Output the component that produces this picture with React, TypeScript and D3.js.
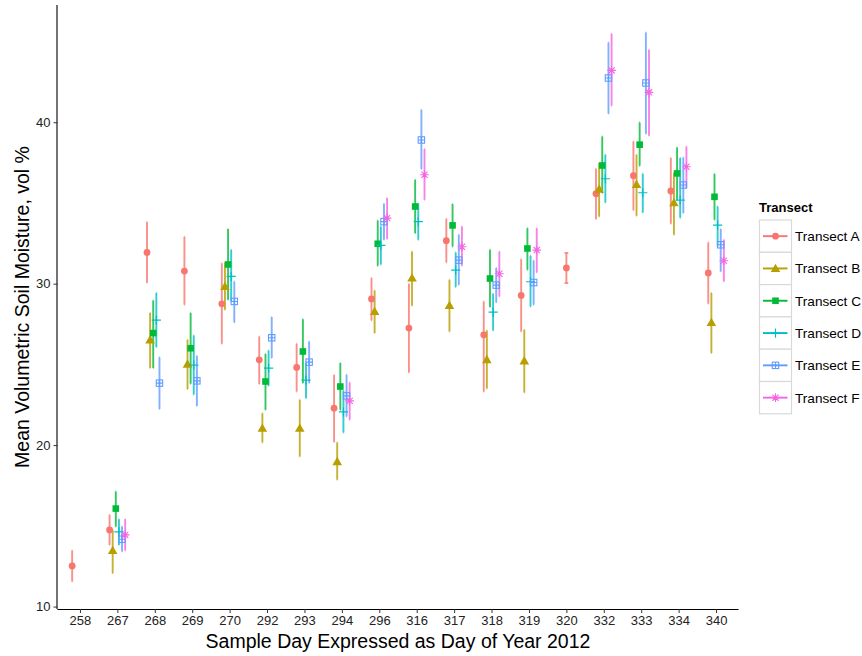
import React, { useEffect, useRef } from 'react';
import * as d3 from 'd3';

// sample days (day of year 2012)
const days = ['258', '267', '268', '269', '270', '292', '293', '294', '296', '316', '317', '318', '319', '320', '332', '333', '334', '340'];
const transects = ['Transect A', 'Transect B', 'Transect C', 'Transect D', 'Transect E', 'Transect F'];
const colors = ['#F8766D', '#B79F00', '#00BA38', '#00BFC4', '#619CFF', '#F564E3'];
const shapes = ['circle', 'triangle', 'square', 'plus', 'squarePlus', 'asterisk'];
// day 320 only had transect A sampled, so it is not dodged
const singleDays = ['320'];

const meanA = [12.52, 14.75, 31.93, 30.78, 28.75, 25.28, 24.81, 22.29, 29.05, 27.25, 32.66, 26.83, 29.27, 30.97, 35.57, 36.69, 35.74, 30.66];
const hiA = [13.47, 15.68, 33.82, 32.91, 31.27, 26.73, 26.28, 24.34, 30.35, 29.99, 34.02, 28.9, 31.52, 31.9, 37.12, 38.81, 37.78, 32.55];
const loA = [11.55, 13.82, 30.06, 28.69, 26.28, 23.78, 23.32, 20.19, 27.72, 24.5, 31.31, 23.3, 27.04, 30.04, 34.0, 34.54, 33.71, 28.75];

const meanB = [null, 13.47, 26.52, 25.02, 29.83, 21.05, 21.05, 18.98, 28.28, 30.35, 28.65, 25.3, 25.22, null, 35.86, 36.15, 35.01, 27.6];
const hiB = [null, 14.75, 28.18, 26.52, 31.3, 21.98, 22.81, 20.16, 29.58, 32.0, 30.24, 27.1, 27.14, null, 37.47, 37.99, 36.85, 29.42];
const loB = [null, 12.07, 24.77, 23.47, 28.38, 20.16, 19.29, 17.85, 26.94, 28.63, 27.04, 23.5, 23.26, null, 34.16, 34.2, 33.03, 25.7];

const meanC = [null, 16.07, 26.94, 26.0, 31.19, 23.94, 25.8, 23.63, 32.47, 34.78, 33.61, 30.32, 32.18, null, 37.32, 38.61, 36.83, 35.38];
const hiC = [null, 17.13, 28.96, 28.18, 33.38, 25.64, 27.8, 25.08, 33.92, 36.44, 34.93, 32.1, 33.44, null, 39.12, 39.99, 38.44, 36.79];
const loC = [null, 14.96, 24.77, 23.8, 29.0, 22.19, 23.84, 22.19, 31.11, 33.13, 32.3, 28.55, 30.86, null, 35.61, 37.3, 35.2, 33.96];

const meanD = [null, 14.63, 27.74, 24.96, 30.45, 24.77, 24.03, 22.06, 32.37, 33.84, 30.84, 28.24, 30.12, null, 36.5, 35.63, 35.18, 33.63];
const hiD = [null, 15.41, 29.42, 26.79, 32.1, 25.86, 25.08, 23.38, 33.54, 34.95, 31.93, 29.37, 31.73, null, 37.99, 36.81, 37.78, 34.78];
const loD = [null, 13.82, 26.07, 23.14, 28.9, 23.67, 22.91, 20.78, 31.19, 32.72, 29.79, 27.1, 28.59, null, 35.03, 34.41, 34.08, 32.3];

const meanE = [null, 14.17, 23.84, 23.98, 28.9, 26.65, 25.14, 23.05, 33.84, 38.9, 31.46, 29.91, 30.07, null, 42.74, 42.43, 36.11, 32.41];
const hiE = [null, 14.96, 25.45, 25.53, 30.14, 27.93, 26.42, 24.36, 34.95, 40.77, 33.03, 30.97, 31.44, null, 44.94, 45.56, 37.82, 33.38];
const loE = [null, 13.41, 22.23, 22.43, 27.6, 25.39, 23.84, 21.77, 32.72, 37.1, 29.93, 28.84, 28.69, null, 40.53, 39.29, 34.37, 30.76];

const meanF = [null, 14.44, null, null, null, null, null, 22.74, 34.06, 36.75, 32.29, 30.61, 32.08, null, 43.21, 41.85, 37.24, 31.42];
const hiF = [null, 15.41, null, null, null, null, null, 23.88, 35.3, 38.34, 33.54, 32.0, 33.44, null, 45.48, 44.49, 38.5, 32.72];
const loF = [null, 13.47, null, null, null, null, null, 21.57, 32.76, 35.2, 31.11, 29.2, 30.69, null, 41.02, 39.16, 35.92, 30.14];

const yTicks = [10, 20, 30, 40];

const means = [meanA, meanB, meanC, meanD, meanE, meanF];
const his = [hiA, hiB, hiC, hiD, hiE, hiF];
const los = [loA, loB, loC, loD, loE, loF];

const FONT = '"Liberation Sans", Arial, Helvetica, sans-serif';

// draw a ggplot-like point shape centred at 0,0
function drawShape(g, shape, color) {
  if (shape === 'circle') {
    g.append('circle').attr('r', 3.4).attr('fill', color);
  } else if (shape === 'triangle') {
    g.append('path').attr('d', d3.symbol(d3.symbolTriangle, 40)()).attr('fill', color).attr('transform', 'translate(0,0.8)');
  } else if (shape === 'square') {
    g.append('rect').attr('x', -3.3).attr('y', -3.3).attr('width', 6.6).attr('height', 6.6).attr('fill', color);
  } else if (shape === 'plus') {
    g.append('path').attr('d', 'M-4.6,0H4.6M0,-4.6V4.6').attr('stroke', color).attr('stroke-width', 1.2);
  } else if (shape === 'squarePlus') {
    g.append('rect').attr('x', -3.2).attr('y', -3.2).attr('width', 6.4).attr('height', 6.4)
      .attr('fill', 'none').attr('stroke', color).attr('stroke-width', 1.1);
    g.append('path').attr('d', 'M-3.2,0H3.2M0,-3.2V3.2').attr('stroke', color).attr('stroke-width', 1.1);
  } else if (shape === 'asterisk') {
    g.append('path').attr('d', 'M-4.3,0H4.3M0,-4.3V4.3M-3.1,-3.1L3.1,3.1M-3.1,3.1L3.1,-3.1')
      .attr('stroke', color).attr('stroke-width', 1.1);
  }
}

const App = () => {
  const ref = useRef(null);
  const width = 862;
  const height = 656;
  const panel = { left: 57.5, right: 738.5, top: 5, bottom: 609 };

  useEffect(() => {
    const svg = d3.select(ref.current);
    svg.selectAll('*').remove();

    const x = d3.scalePoint().domain(days).range([panel.left, panel.right]).padding(0.6);
    const step = x.step();

    const allLo = los.flat().filter((v) => v != null);
    const allHi = his.flat().filter((v) => v != null);
    const yMin = d3.min(allLo);
    const yMax = d3.max(allHi);
    const pad = (yMax - yMin) * 0.05;
    const y = d3.scaleLinear().domain([yMin - pad, yMax + pad]).range([panel.bottom, panel.top]);

    const dodgeW = 0.5 * step;

    // points + error bars
    const rows = [];
    transects.forEach((t, ti) => {
      days.forEach((d, di) => {
        if (means[ti][di] == null) return;
        const n = singleDays.includes(d) ? 1 : transects.length;
        const slot = n === 1 ? 0 : ti;
        const off = (slot - (n - 1) / 2) * (dodgeW / n);
        rows.push({ ti, day: d, cx: x(d) + off, n, mean: means[ti][di], hi: his[ti][di], lo: los[ti][di] });
      });
    });

    const bars = svg.append('g').attr('class', 'errorbars');
    rows.forEach((r) => {
      const capHalf = (0.1 * step) / r.n / 2;
      bars.append('path')
        .attr('d', `M${r.cx},${y(r.hi)}V${y(r.lo)}M${r.cx - capHalf},${y(r.hi)}H${r.cx + capHalf}M${r.cx - capHalf},${y(r.lo)}H${r.cx + capHalf}`)
        .attr('stroke', colors[r.ti])
        .attr('stroke-opacity', 0.8)
        .attr('stroke-width', 1.9)
        .attr('fill', 'none');
    });

    const pts = svg.append('g').attr('class', 'points');
    rows.forEach((r) => {
      const g = pts.append('g').attr('transform', `translate(${r.cx},${y(r.mean)})`);
      drawShape(g, shapes[r.ti], colors[r.ti]);
    });

    // axes
    const xAxis = svg.append('g')
      .attr('transform', `translate(0,${panel.bottom})`)
      .call(d3.axisBottom(x).tickSize(4).tickPadding(3).tickSizeOuter(0));
    xAxis.select('.domain').attr('d', `M${panel.left},0.5H${panel.right}`).attr('stroke', '#000').attr('stroke-width', 1.1);
    xAxis.selectAll('.tick line').attr('stroke', '#333');
    xAxis.selectAll('.tick text').attr('fill', '#222').style('font-size', '13px').style('font-family', FONT);

    const yAxis = svg.append('g')
      .attr('transform', `translate(${panel.left},0)`)
      .call(d3.axisLeft(y).tickValues(yTicks).tickSize(4).tickPadding(3).tickSizeOuter(0));
    yAxis.select('.domain').attr('d', `M-0.5,${panel.top}V${panel.bottom}`).attr('stroke', '#000').attr('stroke-width', 1.1);
    yAxis.selectAll('.tick line').attr('stroke', '#333');
    yAxis.selectAll('.tick text').attr('fill', '#222').style('font-size', '13px').style('font-family', FONT);

    // axis titles
    svg.append('text')
      .attr('x', (panel.left + panel.right) / 2)
      .attr('y', 648)
      .attr('text-anchor', 'middle')
      .style('font-family', FONT)
      .style('font-size', '19.5px')
      .text('Sample Day Expressed as Day of Year 2012');

    svg.append('text')
      .attr('transform', `translate(29,${(panel.top + panel.bottom) / 2}) rotate(-90)`)
      .attr('text-anchor', 'middle')
      .style('font-family', FONT)
      .style('font-size', '19.5px')
      .text('Mean Volumetric Soil Moisture, vol %');

    // legend
    const legend = svg.append('g').attr('transform', 'translate(759,0)');
    legend.append('text')
      .attr('x', 0)
      .attr('y', 212)
      .style('font-family', FONT)
      .style('font-size', '13px')
      .style('font-weight', 'bold')
      .text('Transect');
    const keyH = 32.3;
    transects.forEach((t, ti) => {
      const ky = 220 + ti * keyH;
      legend.append('rect')
        .attr('x', 0.5).attr('y', ky)
        .attr('width', 32).attr('height', keyH)
        .attr('fill', '#fff').attr('stroke', '#d9d9d9').attr('stroke-width', 1.2);
      legend.append('line')
        .attr('x1', 4).attr('x2', 28.5)
        .attr('y1', ky + keyH / 2).attr('y2', ky + keyH / 2)
        .attr('stroke', colors[ti]).attr('stroke-width', 1.9);
      const g = legend.append('g').attr('transform', `translate(16.5,${ky + keyH / 2})`);
      drawShape(g, shapes[ti], colors[ti]);
      legend.append('text')
        .attr('x', 36)
        .attr('y', ky + keyH / 2 + 5)
        .style('font-family', FONT)
        .style('font-size', '13.6px')
        .text(t);
    });
  }, []);

  return (
    <svg
      ref={ref}
      width={width}
      height={height}
      style={{ position: 'absolute', left: 0, top: 0, background: '#fff' }}
    />
  );
};

export default App;
